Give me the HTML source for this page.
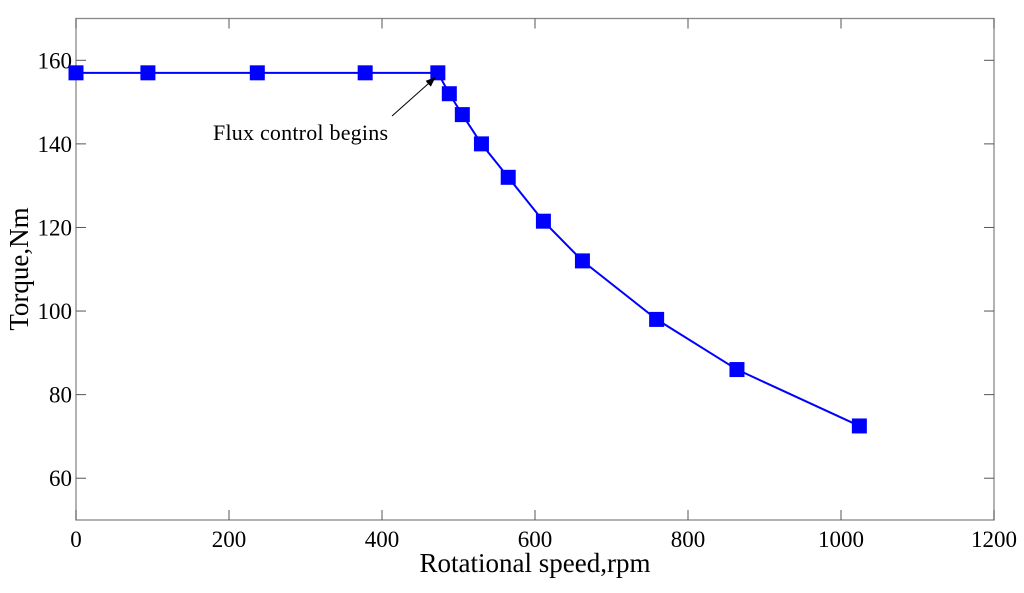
<!DOCTYPE html>
<html><head><meta charset="utf-8"><style>body{margin:0;background:#fff}svg text{font-family:"Liberation Serif",serif;fill:#000}</style></head><body>
<svg id="c" width="1024" height="588">
<defs><marker id="ah" markerWidth="10" markerHeight="8" refX="9" refY="4" orient="auto"><path d="M0,0L10,4L0,8z" fill="#000"/></marker></defs>
</svg>
<script>
const speeds=[0,94,237,378,473,488,505,530,565,611,662,759,864,1024];
const torques=[157,157,157,157,157,152,147,140,132,121.5,112,98,86,72.5];
const xTicks=[0,200,400,600,800,1000,1200];
const yTicks=[60,80,100,120,140,160];
const L=76,R=994,T=18.5,B=520;
const X=v=>L+(v/1200)*(R-L);
const Y=v=>B-(v-50)/120*(B-T);
const svg=document.getElementById('c');const NS='http://www.w3.org/2000/svg';
function mk(t,a,p){const e=document.createElementNS(NS,t);for(const k in a)e.setAttribute(k,a[k]);(p||svg).appendChild(e);return e;}
const frame=mk('rect',{x:L,y:T,width:R-L,height:B-T,fill:'none',stroke:'#888','stroke-width':1.3});


xTicks.forEach(v=>{
 const t=mk('line',{x1:X(v),x2:X(v),y1:B,y2:B-10,stroke:'#555'});
 
 
 const t2=mk('line',{x1:X(v),x2:X(v),y1:T,y2:T+10,stroke:'#555'});
 
 
 const l=mk('text',{x:X(v),y:B+27,'text-anchor':'middle','font-size':23});l.textContent=v;
 
 
});
yTicks.forEach(v=>{
 const t=mk('line',{x1:L,x2:L+10,y1:Y(v),y2:Y(v),stroke:'#555'});
 
 
 const t2=mk('line',{x1:R,x2:R-10,y1:Y(v),y2:Y(v),stroke:'#555'});
 
 
 const l=mk('text',{x:L-4,y:Y(v)+8,'text-anchor':'end','font-size':23});l.textContent=v;
 
 
});
const pl=mk('polyline',{points:speeds.map((s,i)=>X(s)+','+Y(torques[i])).join(' '),fill:'none',stroke:'#0000ff','stroke-width':2});


speeds.forEach((s,i)=>{
 const r=mk('rect',{x:X(s)-7.5,y:Y(torques[i])-7.5,width:15,height:15,fill:'#0000ff'});
 
 
});
const ar=mk('line',{x1:392,y1:116,x2:X(speeds[4])-3,y2:Y(torques[4])+5,stroke:'#000','stroke-width':1,'marker-end':'url(#ah)'});


const an=mk('text',{x:213,y:140,'font-size':22,textLength:175});an.textContent='Flux control begins';


const xt=mk('text',{x:535,y:572,'text-anchor':'middle','font-size':27});xt.textContent='Rotational speed,rpm';


const yt=mk('text',{x:0,y:0,'text-anchor':'middle','font-size':27,transform:'translate(28,269) rotate(-90)'});yt.textContent='Torque,Nm';


</script>
</body></html>
